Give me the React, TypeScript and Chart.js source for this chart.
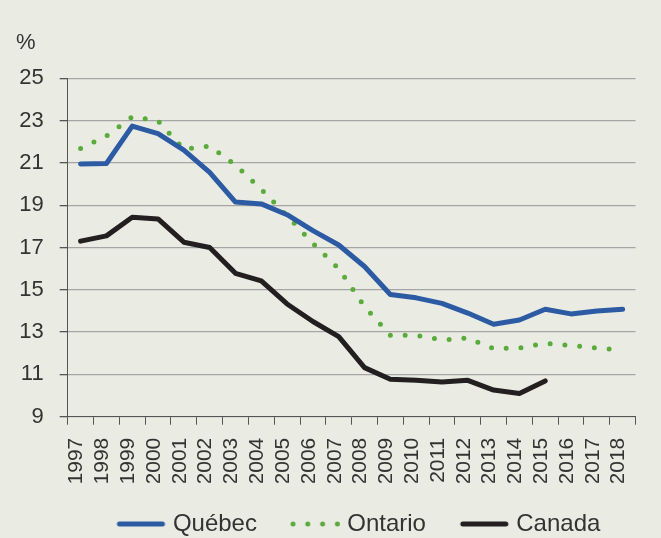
import React, { useEffect, useRef } from 'react';
import { Chart, registerables } from 'chart.js';

Chart.register(...registerables);

const years = ['1997', '1998', '1999', '2000', '2001', '2002', '2003', '2004', '2005', '2006', '2007', '2008', '2009', '2010', '2011', '2012', '2013', '2014', '2015', '2016', '2017', '2018'];

const quebec = [20.95, 20.97, 22.74, 22.38, 21.6, 20.55, 19.15, 19.06, 18.55, 17.8, 17.12, 16.1, 14.78, 14.62, 14.36, 13.9, 13.37, 13.57, 14.08, 13.86, 14.0, 14.08];

const ontario = [21.68, 22.27, 23.18, 22.99, 21.64, 21.8, 20.9, 19.75, 18.5, 17.2, 16.0, 14.2, 12.85, 12.85, 12.63, 12.72, 12.22, 12.25, 12.47, 12.37, 12.25, 12.15];

const canada = [17.3, 17.55, 18.43, 18.35, 17.25, 17.0, 15.78, 15.42, 14.33, 13.5, 12.79, 11.32, 10.77, 10.72, 10.64, 10.72, 10.26, 10.1, 10.69, null, null, null];

const yMin = 9;
const yMax = 25;
const yStep = 2;

const seriesNames = ['Québec', 'Ontario', 'Canada'];
const seriesColors = ['#2d5ba3', '#5aab3b', '#231f20'];
const DOT_GAP = 14.8;

// legend sample image: line centred 4.5px right of the image centre
function makeSample(color: string, dotted: boolean): HTMLCanvasElement {
  const c = document.createElement('canvas');
  c.width = 70;
  c.height = 10;
  const ctx = c.getContext('2d')!;
  const cx = 35 + 4.5;
  ctx.strokeStyle = color;
  ctx.lineWidth = 5;
  ctx.lineCap = 'round';
  ctx.beginPath();
  if (dotted) {
    ctx.setLineDash([0, DOT_GAP]);
    ctx.moveTo(cx - 22.3, 5);
    ctx.lineTo(cx + 22.4, 5);
  } else {
    ctx.moveTo(cx - 21.5, 5);
    ctx.lineTo(cx + 21.5, 5);
  }
  ctx.stroke();
  return c;
}

const legendShift = {
  id: 'legendShift',
  afterLayout(chart: any) {
    if (chart.legend) {
      chart.legend.left += 4.5;
      chart.legend.right += 4.5;
    }
  },
};

export default function App() {
  const ref = useRef<HTMLCanvasElement>(null);

  useEffect(() => {
    Chart.defaults.font.family = "'Liberation Sans', Arial, Helvetica, sans-serif";
    const common = {
      borderWidth: 5,
      pointRadius: 0,
      pointHoverRadius: 0,
      tension: 0,
      borderCapStyle: 'round',
      borderJoinStyle: 'round',
      fill: false,
    };
    const chart = new Chart(ref.current!, {
      type: 'line',
      data: {
        labels: years,
        datasets: [
          {
            ...common,
            label: seriesNames[0],
            data: quebec,
            borderColor: seriesColors[0],
            backgroundColor: seriesColors[0],
            pointStyle: makeSample(seriesColors[0], false),
          },
          {
            ...common,
            label: seriesNames[1],
            data: ontario,
            borderColor: seriesColors[1],
            backgroundColor: seriesColors[1],
            borderDash: [0, DOT_GAP],
            pointStyle: makeSample(seriesColors[1], true),
          },
          {
            ...common,
            label: seriesNames[2],
            data: canada,
            borderColor: seriesColors[2],
            backgroundColor: seriesColors[2],
            pointStyle: makeSample(seriesColors[2], false),
          },
        ],
      },
      options: {
        responsive: false,
        animation: false,
        devicePixelRatio: 1,
        layout: { padding: { left: 16, right: 7, top: 0, bottom: 0 } },
        plugins: {
          title: {
            display: true,
            text: '%',
            align: 'start',
            color: '#333333',
            font: { size: 22, weight: 'normal' },
            padding: { top: 29.8, bottom: 22.1 },
          },
          legend: {
            position: 'bottom',
            fullSize: false,
            labels: {
              usePointStyle: true,
              pointStyleWidth: 49,
              padding: 29.3,
              color: '#333333',
              font: { size: 24 },
            },
          },
          tooltip: { enabled: false },
        },
        scales: {
          x: {
            offset: true,
            grid: {
              offset: true,
              drawOnChartArea: false,
              drawTicks: true,
              tickLength: 8,
              color: '#555555',
              tickColor: '#555555',
            },
            border: { display: true, color: '#555555', width: 1 },
            ticks: {
              autoSkip: false,
              maxRotation: 90,
              minRotation: 90,
              padding: 13,
              labelOffset: -4,
              color: '#333333',
              font: { size: 21 },
            },
            afterFit: (s: any) => {
              s.height = 66;
            },
          },
          y: {
            min: yMin,
            max: yMax,
            ticks: {
              stepSize: yStep,
              padding: 16,
              color: '#333333',
              font: { size: 22 },
            },
            grid: {
              color: '#a5a5a5',
              lineWidth: 1.3,
              drawTicks: true,
              tickLength: 8,
              tickColor: '#555555',
            },
            border: { display: true, color: '#555555', width: 1 },
            afterFit: (s: any) => {
              s.width = 51.7;
            },
          },
        },
      },
      plugins: [legendShift],
    } as any);
    return () => chart.destroy();
  }, []);

  return (
    <div
      style={{
        position: 'fixed',
        left: 0,
        top: 0,
        width: 661,
        height: 538,
        overflow: 'hidden',
        background: '#eaece3',
      }}
    >
      <canvas ref={ref} width={661} height={546} style={{ display: 'block' }} />
    </div>
  );
}
